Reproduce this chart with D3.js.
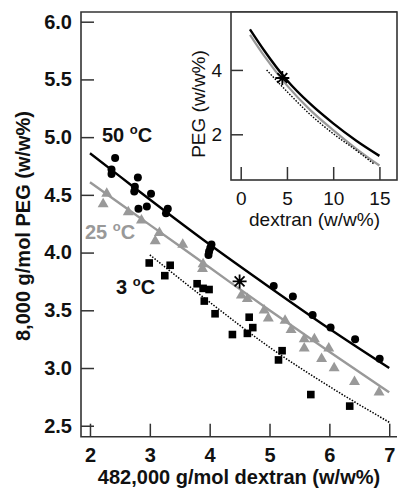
<!DOCTYPE html>
<html><head><meta charset="utf-8">
<script src="https://cdn.jsdelivr.net/npm/d3@7"></script>
<style>
html,body{margin:0;padding:0;background:#fff;}
svg{display:block;font-family:"Liberation Sans",Arial,Helvetica,sans-serif;}
</style></head>
<body>
<svg id="chart" width="398" height="489"></svg>
<script>
// ---------- data ----------
const xTicks = [2, 3, 4, 5, 6, 7];
const yTicks = [2.5, 3.0, 3.5, 4.0, 4.5, 5.0, 5.5, 6.0];
const insetXTicks = [0, 5, 10, 15];
const insetYTicks = [2, 4];

const pts50 = [[2.42,4.82],[2.36,4.72],[2.36,4.68],[2.80,4.65],[2.75,4.57],[2.74,4.53],[3.02,4.51],[2.95,4.40],[2.81,4.38],[3.30,4.38],[3.27,4.34],[4.03,4.07],[4.01,4.04],[3.99,4.01],[3.98,3.98],[5.07,3.71],[5.39,3.62],[5.72,3.46],[6.02,3.35],[6.43,3.25],[6.84,3.08]];
const pts25 = [[2.28,4.51],[2.22,4.42],[2.64,4.35],[2.86,4.28],[3.16,4.17],[3.09,4.10],[3.55,4.07],[3.89,3.90],[3.88,3.86],[4.53,3.63],[4.63,3.60],[4.91,3.50],[4.98,3.43],[5.26,3.41],[5.36,3.33],[5.58,3.25],[5.75,3.25],[5.58,3.17],[5.99,3.17],[5.87,3.08],[6.08,3.00],[6.42,2.88],[6.83,2.79]];
const pts3 = [[2.99,3.91],[3.34,3.89],[3.25,3.80],[3.79,3.73],[3.89,3.69],[3.99,3.68],[3.91,3.58],[4.09,3.47],[4.66,3.44],[4.72,3.35],[4.38,3.29],[4.63,3.30],[5.21,3.15],[5.15,3.07],[5.69,2.77],[6.34,2.67]];

const fit50 = [[2,4.86],[2.5,4.66],[3,4.46],[4,4.07],[5,3.70],[6,3.34],[7,3.00]];
const fit25 = [[2,4.61],[3,4.24],[4,3.87],[5,3.50],[6,3.14],[7,2.79]];
const fit3  = [[3,3.98],[4,3.57],[5,3.18],[6,2.84],[7,2.53]];
const starPt = [4.5, 3.75];

const inset50 = [[1,5.26],[2.5,4.62],[5,3.68],[7.5,2.95],[10,2.34],[12.5,1.80],[15,1.33]];
const inset25 = [[1,5.09],[2.5,4.45],[5,3.52],[7.5,2.76],[10,2.13],[12.5,1.55],[15,1.03]];
const inset3  = [[2.8,4.0],[5,3.33],[7.5,2.62],[10,2.02],[12.5,1.50],[14.4,1.08]];

const labels = [
  {t:"50", c:"#111"},
  {t:"25", c:"#999"},
  {t:"3",  c:"#111"}
];
const xTitle = "482,000 g/mol dextran (w/w%)";
const yTitle = "8,000 g/mol PEG (w/w%)";
const insetXTitle = "dextran (w/w%)";
const insetYTitle = "PEG (w/w%)";

// ---------- drawing ----------
const svg = d3.select("#chart");
const FONT = '"Liberation Sans",Arial,Helvetica,sans-serif';
const GRAY = "#999";
const AX = "#333";

const M = {l:81, r:397, t:12, b:436.7};
const x = d3.scaleLinear().domain([1.85, 7.13]).range([M.l, M.r]);
const y = d3.scaleLinear().domain([2.405, 6.084]).range([M.b, M.t]);

// axes
const gx = svg.append("g").attr("transform", `translate(0,${M.b})`)
  .call(d3.axisBottom(x).tickValues(xTicks).tickSize(-13).tickSizeOuter(0).tickPadding(11).tickFormat(d3.format("d")));
const gy = svg.append("g").attr("transform", `translate(${M.l},0)`)
  .call(d3.axisLeft(y).tickValues(yTicks).tickSize(-13).tickSizeOuter(0).tickPadding(9).tickFormat(d3.format(".1f")));
[gx, gy].forEach(g => {
  g.select(".domain").remove();
  g.selectAll(".tick line").attr("stroke", AX).attr("stroke-width", 1.5);
  g.selectAll(".tick text").attr("fill", "#111").style("font-family", FONT)
    .style("font-size", "20px").style("font-weight", "bold");
});
// frame: left, bottom, top
svg.append("path").attr("d", `M${M.r},${M.t}H${M.l}V${M.b}H${M.r}`)
  .attr("fill", "none").attr("stroke", AX).attr("stroke-width", 1.6);

// axis titles
svg.append("text").attr("x", 239).attr("y", 484).attr("text-anchor", "middle")
  .style("font-size", "20px").style("font-weight", "bold").attr("fill", "#111").text(xTitle);
svg.append("text").attr("transform", "translate(30,226) rotate(-90)").attr("text-anchor", "middle")
  .style("font-size", "20px").style("font-weight", "bold").attr("fill", "#111").text(yTitle);

// fit lines
const line = d3.line().x(d => x(d[0])).y(d => y(d[1])).curve(d3.curveMonotoneX);
svg.append("path").datum(fit50).attr("d", line).attr("fill", "none").attr("stroke", "#000").attr("stroke-width", 2.4);
svg.append("path").datum(fit25).attr("d", line).attr("fill", "none").attr("stroke", GRAY).attr("stroke-width", 2.4);
svg.append("path").datum(fit3).attr("d", line).attr("fill", "none").attr("stroke", "#000").attr("stroke-width", 1.5).attr("stroke-dasharray", "1.5,1.5");

// markers
svg.append("g").selectAll("circle").data(pts50).join("circle")
  .attr("cx", d => x(d[0])).attr("cy", d => y(d[1])).attr("r", 4).attr("fill", "#000");
const tri = d3.symbol().type(d3.symbolTriangle).size(52);
svg.append("g").selectAll("path").data(pts25).join("path")
  .attr("transform", d => `translate(${x(d[0])},${y(d[1])})`).attr("d", tri).attr("fill", GRAY);
svg.append("g").selectAll("rect").data(pts3).join("rect")
  .attr("x", d => x(d[0]) - 3.8).attr("y", d => y(d[1]) - 3.8).attr("width", 7.6).attr("height", 7.6).attr("fill", "#000");

// asterisk symbol (8 arms)
const asterisk8 = {draw(ctx, size){ const r = Math.sqrt(size)/2, u = r*Math.SQRT1_2;
  ctx.moveTo(-r,0); ctx.lineTo(r,0); ctx.moveTo(0,-r); ctx.lineTo(0,r);
  ctx.moveTo(-u,-u); ctx.lineTo(u,u); ctx.moveTo(-u,u); ctx.lineTo(u,-u);} };
const star = d3.symbol().type(asterisk8).size(196);
svg.append("path").attr("transform", `translate(${x(starPt[0])},${y(starPt[1])})`)
  .attr("d", star).attr("fill", "none").attr("stroke", "#000").attr("stroke-width", 1.8);

// temperature labels
function tempLabel(px, py, lab) {
  const t = svg.append("text").attr("x", px).attr("y", py).attr("fill", lab.c)
    .style("font-size", "20px").style("font-weight", "bold");
  t.append("tspan").text(lab.t + " ");
  t.append("tspan").attr("dy", -8).style("font-size", "13px").text("o");
  t.append("tspan").attr("dy", 8).text("C");
}
tempLabel(102, 141.5, labels[0]);
tempLabel(85, 238.5, labels[1]);
tempLabel(116, 293.5, labels[2]);

// ---------- inset ----------
const I = {l:231, r:397, t:12, b:180};
const ix = d3.scaleLinear().domain([-1.05, 16.9]).range([I.l, I.r]);
const iy = d3.scaleLinear().domain([0.58, 5.8]).range([I.b, I.t]);
svg.append("rect").attr("x", I.l).attr("y", I.t).attr("width", I.r - I.l).attr("height", I.b - I.t)
  .attr("fill", "#fff").attr("stroke", AX).attr("stroke-width", 1.6);
const igx = svg.append("g").attr("transform", `translate(0,${I.b})`)
  .call(d3.axisBottom(ix).tickValues(insetXTicks).tickSize(-13).tickSizeOuter(0).tickPadding(12).tickFormat(d3.format("d")));
const igy = svg.append("g").attr("transform", `translate(${I.l},0)`)
  .call(d3.axisLeft(iy).tickValues(insetYTicks).tickSize(-12).tickSizeOuter(0).tickPadding(9).tickFormat(d3.format("d")));
[igx, igy].forEach(g => {
  g.select(".domain").remove();
  g.selectAll(".tick line").attr("stroke", AX).attr("stroke-width", 1.5);
  g.selectAll(".tick text").attr("fill", "#111").style("font-family", FONT)
    .style("font-size", "19px").style("font-weight", "normal");
});
svg.append("text").attr("x", 314.5).attr("y", 226).attr("text-anchor", "middle")
  .style("font-size", "19px").attr("fill", "#111").text(insetXTitle);
svg.append("text").attr("transform", "translate(205,104) rotate(-90)").attr("text-anchor", "middle")
  .style("font-size", "19px").attr("fill", "#111").text(insetYTitle);

const iline = d3.line().x(d => ix(d[0])).y(d => iy(d[1])).curve(d3.curveMonotoneX);
svg.append("path").datum(inset25).attr("d", iline).attr("fill", "none").attr("stroke", GRAY).attr("stroke-width", 2.2);
svg.append("path").datum(inset3).attr("d", iline).attr("fill", "none").attr("stroke", "#000").attr("stroke-width", 1.4).attr("stroke-dasharray", "1.5,1.5");
svg.append("path").datum(inset50).attr("d", iline).attr("fill", "none").attr("stroke", "#000").attr("stroke-width", 2.4);
svg.append("path").attr("transform", `translate(${ix(starPt[0])},${iy(starPt[1])})`)
  .attr("d", star).attr("fill", "none").attr("stroke", "#000").attr("stroke-width", 1.8);
</script>
</body></html>
